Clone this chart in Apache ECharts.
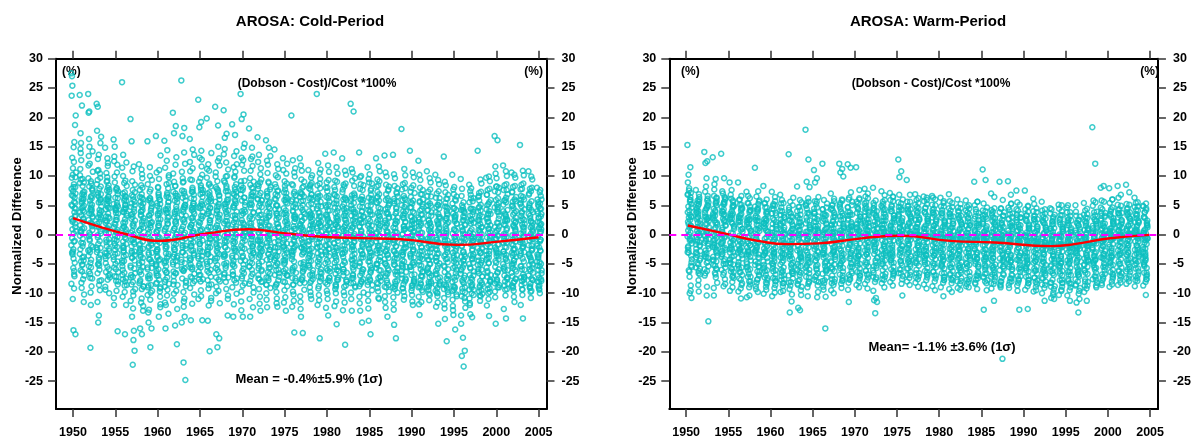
<!DOCTYPE html>
<html>
<head>
<meta charset="utf-8">
<script src="https://cdn.jsdelivr.net/npm/echarts@6/dist/echarts.min.js"></script>
<style>
html,body{margin:0;padding:0;background:#fff;}
#chart{width:1194px;height:439px;}
</style>
</head>
<body>
<div id="chart"></div>
<script>
// ---------- tick labels ----------
const xTicks = [1950,1955,1960,1965,1970,1975,1980,1985,1990,1995,2000,2005];
const yTicks = [-25,-20,-15,-10,-5,0,5,10,15,20,25,30];

// ---------- Cold period: values per year (spread + outliers, then dense core) ----------
const coldYears = [1950,1951,1952,1953,1954,1955,1956,1957,1958,1959,1960,1961,1962,1963,1964,1965,1966,1967,1968,1969,1970,1971,1972,1973,1974,1975,1976,1977,1978,1979,1980,1981,1982,1983,1984,1985,1986,1987,1988,1989,1990,1991,1992,1993,1994,1995,1996,1997,1998,1999,2000,2001,2002,2003,2004,2005];
const cold1950s = [
[27.5,-6.2,25.4,8.1,-16.3,23.7,4.5,-11.0,20.3,12.4,-3.1,18.7,6.6,-8.4,15.8,2.2,-17.0,14.9,9.7,-4.8,11.3,0.6,-9.2,13.1,5.4,-2.5,7.8,-7.1,10.2,3.3,-1.2,27.0],
[23.8,-5.1,9.4,-11.5,22.0,3.8,-7.6,12.7,1.1,-3.9,17.3,6.2,-9.1,8.8,-0.7,15.6,4.9,-6.3,11.2,2.6,-8.2,7.3,-2.0,13.9,-4.4,5.7,10.1,-1.5,0.4,-10.2,6.9,14.6],
[24.0,-4.3,21.0,7.7,-19.3,20.8,-8.8,12.1,2.9,-12.0,16.3,5.1,-6.7,9.6,-1.9,15.0,0.8,-9.9,13.4,4.2,-3.0,10.7,-5.6,8.2,1.7,-7.4,11.8,3.5,-2.6,14.2,6.4,-0.3],
[22.3,-7.9,21.8,5.5,-13.8,17.7,10.4,-15.0,16.7,2.1,-11.5,15.6,-4.9,8.6,-1.1,12.9,0.2,-8.6,6.8,-3.4,11.0,4.0,-6.0,9.3,-2.3,13.6,1.4,-9.5,7.1,3.0,-5.3,10.9],
[14.8,-3.6,6.0,-10.0,13.0,2.4,-7.0,9.0,-1.4,11.7,0.3,-5.9,7.5,-8.9,4.6,10.5,-2.8,5.9,-4.1,8.4,1.0,-6.8,12.2,3.1,-0.8,9.8,-9.4,6.5,-3.2,2.8,-7.7,4.3],
[16.2,-9.6,15.0,-16.5,4.1,-12.0,10.6,-3.3,7.4,-7.2,1.9,11.9,-5.0,5.2,-1.0,8.9,-8.5,3.7,12.5,-2.1,6.3,-6.4,0.5,9.9,-4.6,2.5,-10.8,7.9,-0.2,4.8,-7.9,13.3],
[26.0,-17.0,13.6,-12.0,5.8,-6.9,9.2,-2.7,3.6,-9.8,7.0,0.9,-4.5,11.4,-8.0,2.0,-1.6,6.1,-10.6,4.4,-3.7,8.3,-0.5,10.0,-7.5,1.3,-5.4,5.0,-2.2,12.3,-8.7,3.9],
[19.7,-18.0,15.9,-19.8,-22.2,4.7,-16.4,-14.0,8.5,-9.7,2.7,-5.8,10.8,-11.3,0.0,6.7,-3.5,-8.1,3.4,-1.3,9.1,-6.6,-10.4,5.3,-2.9,1.6,-7.3,11.6,-4.0,7.2,-12.6,-0.9],
[12.0,-17.0,-16.0,-13.0,5.0,-8.3,9.6,-3.8,1.2,-10.9,7.6,-5.5,3.2,-1.8,10.3,-7.8,-12.2,4.0,-0.4,8.0,-6.1,2.3,-9.3,6.4,-2.4,-11.6,0.7,-4.7,5.6,-8.8,11.1,-3.0],
[15.9,-19.2,-15.0,-16.0,6.2,-9.0,2.0,-12.8,9.3,-4.2,-7.5,4.5,-0.6,-10.3,7.7,-2.0,-5.7,11.5,0.9,-8.6,3.3,-3.1,-11.1,5.9,-1.5,-6.9,8.6,-9.9,1.8,-4.9,10.0,-13.3]
];
const cold1960s = [
[16.8,-14.0,5.4,-9.2,1.5,-5.2,11.0,-2.5,-11.9,7.1,-7.0,3.6,-0.3,-8.4,9.5,-3.9,-10.6,2.6,-6.2,6.0,-1.1,13.5,-4.4,0.4,-9.7,8.1,-2.9,-7.7,4.9,-12.4,-5.9,10.6],
[16.0,14.4,-16.0,-13.5,6.5,-8.1,2.9,-4.6,10.1,-10.4,-1.2,7.9,-6.5,0.6,-9.4,4.3,-3.3,12.6,-11.6,1.8,-5.4,8.8,-7.3,-0.9,5.5,-2.1,-8.9,3.8,-12.0,9.8,-4.0,11.4],
[20.8,18.5,17.3,-18.7,-15.5,7.3,-9.6,3.0,-3.6,11.9,-7.1,0.1,5.8,-11.2,-1.7,9.0,-5.3,2.1,-8.5,13.2,-0.8,6.6,-4.5,-10.1,4.0,-2.6,10.4,-6.6,1.0,-12.7,8.3,-3.8],
[26.3,18.2,16.8,-24.8,-21.8,-15.0,-14.0,8.9,-8.8,4.7,-3.0,12.1,-6.1,0.7,-10.9,6.3,-1.9,-12.3,10.7,-4.9,2.5,-7.9,14.0,-0.5,5.1,-9.8,3.4,-5.8,9.6,-2.4,-11.4,7.5],
[16.3,14.5,-14.6,5.3,-7.4,10.8,-2.7,1.6,-10.2,8.0,-5.1,3.9,-0.2,12.4,-8.3,6.2,-3.5,-11.8,9.4,-1.3,2.8,-6.7,11.3,-4.2,0.3,7.3,-9.1,4.4,-2.0,13.6,-5.6,1.2],
[23.0,19.2,18.3,-14.6,6.9,-6.3,11.6,-1.6,3.1,-9.5,9.0,-3.7,0.8,-11.0,14.3,-5.0,5.0,-8.0,2.2,12.8,-2.8,7.6,-10.5,-0.1,10.2,-6.9,4.6,-4.3,13.1,-1.0,8.4,-7.6],
[19.8,-19.9,-14.7,8.2,-8.6,3.5,-2.2,12.0,-10.8,6.0,-5.5,1.3,-12.1,9.7,-0.7,4.8,-7.2,10.9,-3.4,2.4,-9.2,13.9,-1.4,7.0,-6.0,0.2,11.2,-4.6,5.7,-11.3,8.7,-2.9],
[21.8,18.6,-17.0,-17.7,-19.2,9.9,-7.7,4.1,-1.8,12.5,-10.0,6.6,-4.0,0.5,15.0,-8.9,2.7,-3.1,10.6,-6.4,7.8,-11.7,1.1,-0.6,13.0,-5.2,5.6,-9.6,3.6,11.8,-2.3,8.1],
[21.2,17.2,16.5,-13.8,7.4,-6.8,2.3,-3.6,11.1,-9.3,5.2,0.0,-5.7,13.7,-1.2,8.9,-11.0,3.9,-7.3,10.0,-2.1,6.0,-4.8,14.6,1.7,-8.1,9.2,-0.4,4.4,-10.4,12.3,-3.3],
[18.8,17.0,-14.0,8.6,-7.8,3.2,-2.4,11.5,-10.1,5.9,-5.0,1.4,13.4,-9.0,-0.5,7.0,-3.8,9.9,-6.3,2.6,-11.9,12.0,-1.3,4.7,-8.2,6.8,0.3,10.7,-4.5,14.2,-2.7,-6.9]
];
const cold1970s = [
[24.0,20.5,19.7,15.5,-14.0,9.1,-6.6,4.0,-1.0,12.7,-9.7,6.3,-3.9,2.0,14.8,-7.5,0.5,8.0,-11.4,10.9,-2.3,5.5,-5.1,13.1,1.0,-8.7,7.6,-0.2,11.9,-4.4,3.6,-12.9],
[18.1,14.8,-14.0,7.9,-7.1,2.8,-2.0,10.9,-9.9,5.1,-4.7,0.9,12.9,-8.4,-0.3,8.5,-3.2,6.5,-11.0,11.7,-1.5,3.7,-6.0,9.6,-12.4,1.9,-5.5,13.3,0.0,-9.0,6.9,-2.8],
[16.6,-13.0,8.3,-6.2,3.3,-1.1,11.3,-9.3,5.8,-3.6,0.4,9.4,-7.6,-0.9,7.1,-4.9,2.1,-10.6,12.4,-2.4,4.9,-8.0,10.3,-5.8,1.2,-11.8,6.0,-3.0,13.6,-1.7,8.9,-6.9],
[16.1,14.8,-12.4,7.7,-7.4,2.5,-2.6,10.5,-9.1,4.7,-4.3,0.1,11.9,-8.5,-1.0,6.6,-5.6,9.0,-11.1,3.2,-0.6,8.1,-3.3,12.6,-6.7,1.5,-10.0,5.4,-2.0,13.4,-7.8,3.9],
[14.5,-12.3,6.9,-6.0,1.9,-2.9,9.8,-8.6,4.3,-4.8,0.6,11.2,-9.8,-1.3,7.4,-5.3,2.9,-10.9,8.6,-0.2,5.0,-7.2,12.0,-3.5,1.2,-11.7,6.1,-2.2,10.1,-6.6,3.6,-8.9],
[13.0,-13.0,7.2,-6.9,2.2,-2.1,10.4,-9.5,5.3,-3.9,0.3,8.7,-8.1,-1.4,6.4,-5.0,12.1,-10.7,3.5,-0.5,9.1,-7.0,4.1,-11.6,1.6,-4.4,11.0,-2.6,5.9,-8.8,0.9,-6.2],
[20.3,-16.7,6.0,-7.5,1.4,-2.8,9.9,-9.7,4.6,-4.6,-0.1,11.3,-8.6,-1.6,7.3,-5.7,2.7,-11.3,8.6,-0.4,3.9,-6.5,10.6,-3.4,1.0,-10.2,5.7,-2.1,12.7,-7.9,3.0,-12.3],
[13.0,-16.8,-14.0,6.5,-7.8,1.8,-3.1,9.4,-9.4,4.2,-4.9,0.4,10.9,-8.3,-1.7,7.0,-5.9,2.4,-11.5,8.2,-0.8,3.5,-6.4,11.8,-2.5,1.3,-10.5,5.8,-2.2,9.0,-7.3,-12.7],
[11.0,-11.0,6.2,-7.0,1.6,-2.7,8.8,-9.0,4.4,-4.5,0.2,10.1,-8.2,-1.2,6.8,-5.6,2.6,-10.4,7.9,-0.3,3.4,-6.1,9.7,-3.6,1.1,-9.8,5.1,-2.4,8.3,-7.6,3.0,-5.2],
[24.0,-17.7,7.0,-7.2,1.9,-2.3,9.5,-9.2,4.8,-4.2,0.6,11.1,-8.8,-1.5,6.6,-5.4,2.2,-11.2,8.4,-0.6,3.7,-6.6,10.5,-3.2,1.4,-10.3,5.5,-2.0,12.2,-7.5,3.1,-12.0]
];
const cold1980s = [
[13.8,-13.8,6.4,-7.4,1.5,-3.0,9.3,-9.6,4.1,-4.7,0.0,10.7,-8.5,-1.8,6.2,-5.8,2.1,-11.0,8.0,-0.7,3.3,-6.3,11.8,-3.4,1.0,-10.1,5.0,-2.5,8.9,-7.9,2.7,-12.5],
[14.0,-15.3,6.7,-7.3,1.7,-2.9,9.0,-9.3,4.5,-4.4,0.3,10.4,-8.7,-1.4,6.5,-5.5,2.4,-11.4,8.1,-0.5,3.6,-6.2,11.5,-3.7,1.2,-10.0,5.3,-2.3,9.2,-7.7,2.9,-12.2],
[13.0,-18.8,6.0,-7.7,1.3,-3.2,8.7,-9.8,4.0,-4.8,-0.2,10.2,-8.9,-1.9,6.1,-5.9,2.0,-11.6,7.7,-0.9,3.2,-6.5,10.9,-3.8,0.8,-10.4,4.8,-2.6,8.5,-8.0,2.6,-12.9],
[22.3,21.0,-13.0,6.3,-7.0,1.6,-2.6,9.2,-9.0,4.3,-4.3,0.1,10.6,-8.3,-1.3,6.7,-5.3,2.5,-11.0,8.3,-0.4,3.8,-6.0,11.2,-3.3,1.3,-9.9,5.4,-2.1,9.6,-7.4,3.2],
[14.0,-15.0,-13.0,5.9,-7.9,1.4,-3.3,8.6,-9.9,3.9,-4.9,-0.3,10.0,-8.8,-1.8,6.0,-6.0,2.0,-11.7,7.6,-0.8,3.1,-6.6,9.8,-3.9,0.7,-10.6,4.7,-2.7,8.4,-8.1,2.5],
[11.5,-17.0,-14.7,6.1,-7.6,1.5,-3.1,8.9,-9.5,4.1,-4.6,0.0,10.3,-8.6,-1.6,6.3,-5.7,2.3,-11.3,7.8,-0.6,3.4,-6.3,9.5,-3.6,1.0,-10.2,5.0,-2.4,8.7,-7.8,-12.6],
[13.0,-11.0,6.4,-7.1,1.8,-2.7,9.1,-9.1,4.4,-4.3,0.4,10.8,-8.4,-1.2,6.9,-5.2,2.6,-10.8,8.2,-0.2,3.7,-6.1,11.6,-3.2,1.5,-9.7,5.5,-2.0,9.4,-7.3,3.3,-5.0],
[13.5,-14.0,-12.5,5.8,-7.8,1.3,-3.4,8.5,-9.7,3.8,-5.0,-0.4,9.9,-8.9,-1.9,5.9,-6.1,1.9,-11.5,7.5,-0.9,3.0,-6.7,10.6,-4.0,0.6,-10.5,4.6,-2.8,8.2,-8.2,2.4],
[13.6,-17.7,-15.4,5.6,-8.0,1.2,-3.5,8.3,-9.9,3.6,-5.1,-0.5,9.6,-9.0,-2.0,5.7,-6.3,1.8,-11.8,7.2,-1.0,2.9,-6.8,10.3,-4.1,0.5,-10.7,4.4,-2.9,7.9,-8.4,-12.8],
[18.0,-10.5,5.9,-7.5,1.4,-3.0,8.8,-9.2,4.0,-4.6,0.0,10.1,-8.5,-1.5,6.2,-5.6,2.2,-11.1,7.7,-0.6,3.3,-6.4,11.2,-3.5,1.0,-9.8,5.0,-2.3,8.6,-7.7,2.8,-5.3]
];
const cold1990s = [
[14.3,-12.0,5.5,-7.9,1.1,-3.3,8.4,-9.6,3.7,-4.9,-0.3,9.8,-8.7,-1.8,5.8,-6.0,1.9,-11.4,7.3,-0.9,3.0,-6.8,10.6,-3.9,0.6,-10.3,4.6,-2.6,8.0,-8.2,2.4,-5.5],
[12.6,-11.5,-13.7,5.2,-8.3,0.9,-3.6,8.0,-9.8,3.4,-5.2,-0.6,9.3,-9.0,-2.1,5.5,-6.4,1.6,-11.9,6.9,-1.1,2.7,-7.1,10.2,-4.2,0.3,-10.6,4.3,-2.9,7.6,-8.5,2.1],
[10.8,-10.3,5.0,-8.0,0.8,-3.7,7.7,-9.4,3.2,-5.0,-0.7,8.9,-8.8,-2.2,5.3,-6.5,1.4,-11.2,6.6,-1.2,2.5,-7.0,9.6,-4.3,0.2,-10.1,4.1,-3.0,7.3,-8.3,1.9,-5.8],
[10.2,-15.2,4.7,-8.4,0.6,-3.9,7.4,-9.9,3.0,-5.3,-0.9,8.6,-9.1,-2.4,5.0,-6.7,1.2,-11.6,6.3,-1.4,2.3,-7.3,9.3,-4.5,0.0,-10.5,3.8,-3.2,7.0,-8.6,1.7,-12.3],
[13.3,-18.2,-14.4,4.5,-8.6,0.4,-4.1,7.2,-10.2,2.8,-5.5,-1.0,8.4,-9.3,-2.6,4.8,-6.9,1.0,-11.9,6.1,-1.6,2.1,-7.5,9.0,-4.7,-0.2,-10.8,3.6,-3.4,6.8,-8.8,-12.6],
[10.2,-16.2,-13.7,4.2,-8.9,0.2,-4.3,6.9,-10.5,2.6,-5.7,-1.2,8.1,-9.6,-2.8,4.5,-7.1,0.8,-12.2,5.8,-1.8,1.9,-7.8,7.7,-4.9,-0.4,-11.1,3.3,-3.6,6.5,-9.1,-12.9],
[9.5,-22.5,-20.7,-19.8,-17.6,-15.2,4.0,-9.2,0.0,-4.5,6.6,-10.8,2.4,-5.9,-1.4,7.8,-9.9,-3.0,4.2,-7.4,0.6,-12.5,5.5,-2.0,1.7,-8.1,-13.8,-5.1,-0.6,-11.4,3.1,-3.8],
[8.5,-14.1,-13.6,4.3,-8.7,0.3,-4.2,6.8,-10.3,2.5,-5.6,-1.1,7.9,-9.4,-2.7,4.4,-7.0,0.9,-12.0,5.7,-1.7,2.0,-7.7,7.4,-4.8,-0.3,-10.9,3.4,-3.5,6.2,-9.0,-11.7],
[14.3,-10.5,4.6,-8.2,0.7,-3.8,7.3,-9.7,3.1,-5.1,-0.8,8.7,-9.0,-2.3,5.1,-6.6,1.3,-11.3,6.4,-1.3,2.4,-7.2,9.4,-4.4,0.1,-10.4,3.9,-3.1,7.1,-8.5,1.8,-5.9],
[9.7,-13.9,5.0,-7.9,1.0,-3.5,7.8,-9.3,3.5,-4.8,-0.5,9.1,-8.6,-2.0,5.5,-6.2,1.6,-11.0,6.8,-1.0,2.8,-6.9,9.9,-4.0,0.4,-10.0,4.3,-2.8,7.6,-8.1,2.2,-12.1]
];
const cold2000s = [
[16.8,16.1,-15.2,5.4,-7.6,1.3,-3.2,8.2,-9.0,3.9,-4.5,-0.2,9.6,-8.3,-1.7,5.9,-5.9,2.0,-10.7,7.2,-0.7,3.2,-6.5,10.4,-3.7,0.7,-9.7,4.7,-2.5,8.0,-7.8,11.6],
[11.8,-14.3,5.8,-7.3,1.6,-2.9,8.6,-8.7,4.2,-4.2,0.1,10.0,-8.0,-1.4,6.3,-5.5,2.4,-10.4,7.6,-0.4,3.6,-6.1,10.8,-3.3,1.1,-9.4,5.1,-2.2,8.4,-7.4,2.6,-12.7],
[10.6,-11.5,5.6,-7.5,1.4,-3.1,8.3,-8.9,4.0,-4.4,-0.1,9.7,-8.2,-1.6,6.0,-5.7,2.2,-10.6,7.3,-0.6,3.4,-6.3,10.2,-3.5,0.9,-9.6,4.9,-2.4,8.1,-7.6,2.4,-5.0],
[15.3,-14.3,5.9,-7.2,1.7,-2.8,8.7,-8.6,4.3,-4.1,0.2,10.1,-7.9,-1.3,6.4,-5.4,2.5,-10.3,7.7,-0.3,3.7,-6.0,10.9,-3.2,1.2,-9.3,5.2,-2.1,8.5,-7.3,2.7,-12.0],
[10.8,-9.6,5.3,-7.7,1.2,-3.3,8.0,-9.1,3.8,-4.6,-0.3,9.4,-8.4,-1.8,5.7,-5.9,2.0,-10.8,7.0,-0.8,3.2,-6.5,9.9,-3.7,0.7,-9.8,4.6,-2.6,7.8,-7.8,2.2,-5.2],
[8.0,-10.0,5.1,-7.6,1.0,-3.4,7.6,-8.9,3.5,-4.7,-0.4,6.6,-8.1,-1.9,4.4,-6.0,1.8,-9.4,6.0,-0.9,2.9,-6.6,7.2,-3.8,0.5,-9.2,4.0,-2.7,5.5,-7.9,2.0,-5.3]
];
const coldCore1950s = [
[3.1,7.4,-1.8,5.6,0.9,9.8,-4.1,2.7,6.3,-2.9,4.4,8.6,-0.6,1.9,-5.7,5.1,3.8,-3.4,7.0,0.2,6.7,-1.1,2.4,10.6,-6.8,4.9,1.3,8.1],
[2.2,6.1,-3.3,4.7,0.5,8.9,-5.2,1.6,7.2,-1.4,3.9,9.5,-6.1,2.8,5.4,-0.2,4.1,-4.6,6.8,1.0,-2.5,5.9,3.3,-7.0,8.3,0.7,-3.8,4.5],
[1.9,5.8,-2.7,4.0,0.3,7.9,-4.8,2.5,6.6,-1.0,3.1,9.1,-6.3,1.4,5.2,-3.6,4.6,-0.8,7.5,2.0,-5.4,6.2,0.0,-2.1,8.7,3.6,-7.5,4.3],
[2.6,6.5,-2.2,3.4,-0.5,8.2,-4.3,1.8,5.9,-1.6,4.8,7.8,-6.6,0.6,5.5,-3.0,3.7,-5.1,6.9,1.2,-2.6,9.7,2.9,-7.8,4.2,-0.1,6.0,-3.9],
[1.5,5.3,-3.1,3.6,-0.9,7.3,-5.5,2.0,6.4,-2.0,4.5,8.0,-6.4,0.2,4.9,-3.7,3.0,-1.3,7.7,1.1,-4.9,5.7,2.3,-7.3,6.1,0.8,-2.4,9.2],
[0.8,4.6,-3.8,3.0,-1.5,6.9,-5.9,1.3,5.4,-2.6,3.6,7.6,-7.1,-0.4,4.2,-4.3,2.5,-1.9,6.2,0.4,-5.6,5.0,1.7,-8.0,7.9,-0.8,-3.2,4.4],
[0.4,4.3,-4.4,2.6,-1.9,6.4,-6.5,1.1,5.1,-3.0,3.2,7.2,-7.6,-0.7,3.8,-4.8,2.1,-2.3,5.8,0.0,-6.0,4.6,1.4,-8.6,6.6,-1.2,-3.5,8.8],
[-0.6,3.5,-5.3,1.9,-2.8,5.6,-7.2,0.3,4.4,-3.9,2.4,6.5,-8.5,-1.6,3.0,-5.6,1.4,-3.1,5.0,-0.9,-6.9,3.9,0.6,-9.3,6.0,-2.0,-4.4,7.6],
[-0.3,3.9,-4.9,2.2,-2.4,6.0,-6.8,0.7,4.7,-3.5,2.8,6.9,-8.0,-1.2,3.4,-5.2,1.7,-2.7,5.3,-0.5,-6.4,4.2,1.0,-8.9,6.3,-1.6,-4.0,8.4],
[-0.9,3.2,-5.6,1.6,-3.1,5.3,-7.5,0.1,4.1,-4.2,2.1,6.2,-8.7,-1.8,2.7,-5.9,1.2,-3.4,4.8,-1.1,-7.1,3.6,0.4,-9.6,5.8,-2.2,-4.6,7.3]
];
const coldCore1960s = [
[-0.5,3.6,-5.0,2.0,-2.6,5.9,-7.0,0.5,4.5,-3.7,2.6,6.8,-8.2,-1.4,3.3,-5.4,1.5,-2.9,5.2,-0.7,-6.6,4.0,0.8,-9.0,6.4,-1.8,-4.2,8.0],
[0.2,4.1,-4.5,2.4,-2.0,6.3,-6.4,0.9,4.9,-3.2,3.0,7.1,-7.7,-0.9,3.7,-4.9,1.9,-2.4,5.6,-0.2,-6.1,4.4,1.2,-8.4,6.8,-1.3,-3.7,8.6],
[0.0,3.9,-4.7,2.3,-2.2,6.1,-6.6,0.7,4.8,-3.4,2.9,7.0,-7.9,-1.0,3.5,-5.1,1.8,-2.6,5.5,-0.4,-6.3,4.3,1.1,-8.6,6.6,-1.5,-3.9,8.3],
[0.3,4.3,-4.3,2.6,-1.8,6.5,-6.2,1.0,5.0,-3.0,3.2,7.4,-7.5,-0.7,3.9,-4.7,2.1,-2.2,5.8,0.0,-5.9,4.6,1.4,-8.2,7.0,-1.1,-3.5,9.0],
[0.6,4.6,-4.0,2.9,-1.5,6.8,-5.9,1.3,5.3,-2.7,3.5,7.7,-7.2,-0.4,4.2,-4.4,2.4,-1.9,6.1,0.3,-5.6,4.9,1.7,-7.9,7.3,-0.8,-3.2,9.3],
[0.9,4.9,-3.7,3.2,-1.2,7.1,-5.6,1.6,5.6,-2.4,3.8,8.0,-6.9,-0.1,4.5,-4.1,2.7,-1.6,6.4,0.6,-5.3,5.2,2.0,-7.6,7.6,-0.5,-2.9,9.6],
[0.1,4.0,-4.6,2.5,-2.1,6.2,-6.5,0.8,4.6,-3.3,3.1,7.2,-7.8,-0.8,3.6,-5.0,2.0,-2.5,5.7,-0.3,-6.2,4.5,1.3,-8.5,6.7,-1.4,-3.8,8.5],
[0.7,4.7,-4.1,3.0,-1.6,6.7,-6.0,1.2,5.2,-2.8,3.4,7.6,-7.3,-0.5,4.1,-4.5,2.3,-2.0,6.0,0.2,-5.7,4.8,1.6,-8.0,7.2,-0.9,-3.3,9.1],
[1.2,5.2,-3.5,3.5,-1.0,7.4,-5.3,1.9,5.9,-2.2,4.1,8.3,-6.6,0.2,4.8,-3.8,3.0,-1.3,6.7,0.9,-5.0,5.5,2.3,-7.3,7.9,-0.2,-2.6,9.9],
[1.0,5.0,-3.6,3.3,-1.1,7.2,-5.4,1.7,5.7,-2.3,3.9,8.1,-6.8,0.0,4.6,-4.0,2.8,-1.5,6.5,0.7,-5.2,5.3,2.1,-7.5,7.7,-0.4,-2.8,9.7]
];
const coldCore1970s = [
[4.2,-1.3,6.9,-5.8,2.5,0.4,-3.6,8.4,1.7,-7.1,5.0,-0.6,3.3,-2.4,7.6,-4.5,0.9,5.8,-8.3,2.0,-1.9,6.3,-6.2,3.9,1.1,-3.0,9.2,-0.1],
[-2.0,5.4,0.8,-4.9,3.1,7.2,-0.8,1.9,-6.7,4.6,-3.1,8.0,0.1,-1.6,6.0,-5.4,2.7,-7.9,3.8,-0.3,5.1,-2.7,1.4,9.0,-4.0,0.6,6.6,-3.6],
[1.3,-3.4,6.1,-0.9,4.0,-6.0,2.2,7.8,-1.9,0.2,-4.6,5.3,-7.5,3.4,-2.3,8.6,0.7,-5.3,4.7,-0.4,2.9,-8.1,6.7,-2.8,1.6,-3.9,5.9,-1.2],
[5.6,-0.2,2.8,-5.1,7.0,-2.6,0.5,-7.3,3.7,1.0,-3.8,8.8,-1.4,4.4,-6.4,2.1,-0.7,6.4,-4.2,3.0,-8.6,1.5,5.2,-2.1,-5.7,7.4,0.0,-3.3],
[-1.1,3.6,-4.4,6.6,0.3,-2.9,5.0,-6.9,1.8,8.1,-0.5,-3.7,4.3,-7.8,2.6,0.9,-5.0,6.0,-1.7,3.2,-2.2,7.5,-6.1,0.4,4.9,-4.0,1.3,-8.4],
[2.4,-4.8,0.6,5.9,-2.0,-7.0,3.7,-0.1,7.1,-3.5,1.2,-5.9,4.5,-1.5,8.3,-8.0,2.9,-2.5,6.2,0.0,-4.4,3.4,-6.6,1.9,5.5,-0.9,-3.1,7.7],
[0.1,4.8,-3.1,2.2,-6.3,6.7,-0.9,-4.2,3.3,8.4,-1.8,1.0,-7.4,5.2,-2.8,0.6,-5.5,4.1,-0.3,7.0,-3.7,2.7,-8.5,5.8,-1.2,-6.0,3.0,-2.3],
[3.8,-2.3,1.5,-5.6,5.7,-0.6,-3.4,7.2,0.8,-7.6,2.8,-1.3,4.6,-4.7,0.2,6.4,-6.2,3.1,-2.0,8.0,-0.2,-5.1,2.3,-8.2,5.0,1.1,-3.0,6.9],
[-0.8,2.9,-4.0,5.3,0.9,-6.6,3.6,-1.7,6.9,-3.3,1.4,-7.9,4.0,-0.4,7.7,-5.3,2.2,-2.6,5.9,0.3,-4.5,3.3,-6.9,1.7,6.3,-1.0,-3.6,8.5],
[1.6,-3.9,4.4,-0.7,6.5,-5.9,2.0,-2.1,7.9,-7.2,0.5,3.8,-4.6,5.6,-1.4,1.1,-8.0,4.9,-2.9,0.0,6.1,-6.4,2.6,-3.5,8.7,-0.5,3.1,-5.0]
];
const coldCore1980s = [
[-1.6,3.0,-4.9,5.1,0.2,-7.3,2.4,-2.8,6.6,-0.9,-5.8,4.1,1.2,-3.7,7.4,-8.2,0.8,-1.9,5.6,-6.1,3.4,-0.4,-4.3,2.0,-7.8,4.7,-2.4,8.0],
[2.7,-2.2,0.4,-6.0,4.6,-1.1,-3.9,6.9,-7.7,1.7,-0.5,5.3,-4.8,3.1,-8.5,0.9,-2.7,7.6,-5.5,2.2,-1.5,4.0,-6.7,0.0,5.8,-3.3,1.4,-8.9],
[-0.3,4.3,-3.3,1.6,-7.0,5.9,-1.8,-5.2,3.2,0.6,-8.0,6.3,-2.5,2.5,-4.5,7.2,-0.8,-6.4,4.5,-3.0,1.0,-8.7,5.2,-1.3,3.7,-5.9,0.3,8.2],
[1.9,-4.4,5.7,-0.6,-2.6,3.5,-6.8,0.7,7.0,-3.6,2.3,-8.3,4.4,-1.2,-5.0,6.1,-0.2,-7.4,2.9,-2.0,5.0,-4.1,1.1,-8.8,3.9,-1.7,6.7,-5.6],
[-2.1,2.6,-5.4,4.0,-0.4,-7.6,6.0,1.3,-3.4,3.3,-0.9,-6.3,7.8,-1.6,0.5,-4.7,5.5,-8.4,2.1,-2.8,4.8,-5.9,0.1,-1.0,6.5,-7.0,3.0,-3.9],
[0.7,-3.6,4.9,-6.5,1.8,-1.4,3.9,-8.1,6.8,-2.4,0.0,-5.3,2.7,5.6,-4.0,-0.7,7.5,-7.2,1.5,-2.9,4.2,-6.0,0.4,-8.6,3.4,-1.8,5.9,-4.6],
[3.1,-1.9,-5.7,0.8,5.4,-3.1,-7.4,2.1,-0.3,6.4,-4.5,1.2,-8.2,3.8,-2.3,0.2,-6.1,7.3,-1.1,4.6,-5.0,-2.6,2.5,-7.9,5.8,-0.6,-3.8,8.4],
[-1.2,3.6,-4.2,0.5,-7.1,5.0,-2.5,2.0,-5.8,6.9,-0.8,-3.5,4.3,-8.6,1.6,-1.7,6.2,-6.6,2.8,-0.1,-4.9,3.5,-9.0,5.2,0.3,-2.9,7.7,-5.3],
[0.4,-5.2,3.0,-2.0,6.1,-7.9,1.1,-0.9,4.6,-4.1,-6.9,2.4,-1.5,7.0,-8.8,0.0,-3.2,5.3,-5.7,1.9,-2.7,3.9,-9.3,6.5,-0.5,-4.6,2.2,-6.3],
[2.1,-3.0,-6.2,4.7,0.1,-1.6,6.6,-5.0,-8.0,2.9,-2.2,1.4,-4.4,7.9,-0.7,-6.8,3.6,-3.5,5.1,0.8,-7.5,-1.3,4.0,-5.5,1.0,-9.1,6.0,-2.5]
];
const coldCore1990s = [
[-2.6,1.7,-5.5,3.9,-0.7,-8.0,5.3,-3.6,0.4,-6.9,2.6,-1.9,6.4,-4.7,-9.1,1.0,-2.9,4.6,-7.6,-0.1,3.1,-5.2,-1.3,7.1,-8.6,0.9,-3.9,2.2],
[0.3,-4.0,2.9,-7.0,-1.5,4.8,-5.9,1.4,-2.8,-8.9,6.0,-0.6,-4.6,3.4,-7.8,0.0,-2.2,5.7,-6.3,1.9,-3.4,-9.5,4.1,-1.0,-5.3,2.6,-7.2,6.9],
[-1.8,2.4,-6.1,-0.2,4.2,-3.8,-8.4,1.6,-5.0,3.3,-2.4,-7.3,5.6,0.5,-4.3,-9.0,2.0,-1.2,6.5,-6.6,-3.1,1.1,-8.1,3.8,-0.8,-5.6,4.9,-2.0],
[1.0,-3.3,-6.8,3.5,-1.9,-4.9,5.1,-8.6,0.3,-2.6,2.7,-7.5,-0.5,4.4,-5.8,-9.6,1.8,-3.9,6.2,-1.4,-6.2,3.0,-0.9,-8.0,2.1,-4.5,5.5,-10.0],
[-2.3,1.5,-5.3,4.0,-0.9,-7.7,2.8,-3.7,-9.2,5.4,-1.6,0.6,-6.4,3.4,-4.2,-8.5,1.9,-2.0,-5.9,6.1,-0.4,-3.0,2.4,-7.1,4.7,-1.1,-9.8,0.2],
[0.6,-4.6,-8.1,2.9,-1.7,-6.0,4.5,-3.1,-0.3,-9.4,1.8,-5.5,3.6,-2.4,-7.3,5.3,-0.8,-4.0,-10.2,2.3,-1.3,-6.6,0.9,-3.5,6.0,-8.8,-2.0,3.1],
[-3.4,0.8,-6.7,2.5,-1.9,-9.0,4.2,-4.8,-0.6,-7.8,1.6,-2.9,-10.5,3.7,-5.6,-1.2,-8.3,5.0,-3.8,0.2,-6.1,2.9,-9.7,-0.9,-4.3,1.3,-7.0,4.6],
[-1.0,2.6,-5.0,-8.5,0.6,-3.3,4.4,-6.9,-1.9,1.9,-9.4,-4.1,3.2,-0.4,-7.4,5.5,-2.5,-5.8,0.1,-10.0,2.3,-3.7,6.2,-6.3,-1.4,-8.1,3.9,-0.7],
[1.2,-2.8,-6.3,4.1,-0.5,-4.4,-8.7,2.5,-1.7,5.8,-7.1,-3.2,0.8,-9.5,3.3,-5.2,-0.9,6.6,-2.3,-7.9,1.6,-4.8,4.7,-10.1,-1.2,2.9,-6.0,0.4],
[-0.6,3.4,-4.3,1.0,-7.2,-2.1,5.2,-5.6,-9.1,2.2,-1.3,-3.9,6.8,-8.0,0.3,-2.8,4.0,-6.5,-0.2,-4.9,2.7,-9.8,-1.6,5.9,-3.3,1.5,-7.7,3.6]
];
const coldCore2000s = [
[0.9,-3.1,4.6,-6.4,-0.8,2.7,-8.1,-2.2,6.2,-4.8,1.4,-0.2,-7.0,3.8,-3.6,7.4,-9.0,0.4,-1.7,5.1,-5.5,2.0,-2.7,-8.6,4.3,-0.6,-4.2,8.2],
[-1.4,2.3,-5.0,5.5,-0.3,-7.6,3.4,-2.9,0.8,-6.1,6.9,-4.0,1.7,-9.3,-1.1,4.0,-3.5,-7.0,2.6,0.1,-5.8,7.6,-2.1,-8.4,3.1,-0.7,-4.5,5.9],
[2.0,-2.5,-6.5,3.7,-0.9,5.7,-4.4,-8.7,1.2,-1.8,6.4,-3.3,-7.1,0.6,4.5,-5.3,-0.1,-9.1,2.9,-2.6,7.2,-6.0,1.6,-3.8,-8.0,4.9,-1.2,-4.9],
[-0.4,3.9,-3.6,1.3,-7.3,6.0,-2.3,-5.4,0.2,4.8,-8.3,-1.5,2.4,-4.6,7.8,-0.9,-6.8,3.2,-3.0,-9.4,5.4,0.7,-5.9,1.8,-2.0,6.6,-7.7,-1.0],
[1.5,-3.9,-7.0,4.2,-1.0,-5.1,2.3,6.8,-2.7,-8.8,0.5,-4.3,5.0,-0.5,-6.2,3.5,-1.9,-9.0,1.0,7.4,-3.4,-5.7,2.8,-0.8,-7.5,4.6,-2.4,0.1],
[-0.9,2.8,-4.6,0.4,-6.9,4.4,-2.2,-8.0,1.6,-3.5,6.0,-5.4,-0.3,3.1,-7.4,-1.6,5.3,-4.0,0.9,-8.7,2.2,-2.8,4.8,-6.1,-1.2,3.6,-5.0,1.2]
];
const coldVals = [...cold1950s, ...cold1960s, ...cold1970s, ...cold1980s, ...cold1990s, ...cold2000s];
const coldCore = [...coldCore1950s, ...coldCore1960s, ...coldCore1970s, ...coldCore1980s, ...coldCore1990s, ...coldCore2000s];

// ---------- Warm period: values per year ----------
const warmYears = [1950,1951,1952,1953,1954,1955,1956,1957,1958,1959,1960,1961,1962,1963,1964,1965,1966,1967,1968,1969,1970,1971,1972,1973,1974,1975,1976,1977,1978,1979,1980,1981,1982,1983,1984,1985,1986,1987,1988,1989,1990,1991,1992,1993,1994,1995,1996,1997,1998,1999,2000,2001,2002,2003,2004];
const warm1950s = [
[15.3,11.5,10.2,-10.8,-10.0,8.9,-8.7,7.5,-4.2,5.9,-2.0,3.1,-6.3,6.8,0.4,-3.1,4.6,-1.0,2.2,-5.3,7.9,-0.6,1.5,-2.6,5.2,-7.2,3.8,-9.6],
[7.6,-9.7,5.3,-6.8,3.0,-2.4,6.4,-4.9,0.9,-7.8,4.2,-1.3,2.0,-5.6,6.9,-3.5,1.4,-8.6,3.7,-0.2,5.8,-4.1,-6.2,2.6,-1.8,4.9,-3.0,0.3],
[14.1,12.5,12.2,-14.8,9.6,-7.0,6.1,-3.8,2.3,-8.9,7.3,-1.5,4.4,-5.9,0.6,-2.7,5.5,-10.4,3.1,-4.6,8.2,-0.8,1.8,-6.6,4.9,-3.2,-0.1,2.7],
[13.2,9.5,-10.4,6.3,-6.5,3.6,-2.9,7.7,-8.2,1.2,-4.4,5.0,-0.9,2.8,-7.3,6.6,-1.9,4.1,-5.2,0.3,8.6,-3.6,2.0,-9.1,5.7,-2.2,3.3,-5.8],
[13.8,9.6,7.4,-8.4,5.2,-6.0,2.5,-2.3,6.2,-4.5,0.8,-7.6,3.9,-1.4,5.6,-3.3,1.6,-8.8,4.7,-0.5,7.0,-5.0,2.3,-2.8,6.0,-6.9,0.0,3.4],
[8.9,-9.0,6.8,-7.4,4.0,-3.1,5.8,-5.7,1.3,-8.1,3.2,-1.7,7.6,-4.3,0.2,-6.3,4.8,-2.5,2.6,-7.0,6.1,-0.7,1.9,-4.9,5.0,-3.8,-9.6,3.6],
[8.9,-10.9,5.9,-8.3,3.3,-4.0,6.6,-6.4,1.0,-9.2,2.8,-2.2,5.1,-5.1,-0.4,-7.5,4.4,-3.0,2.1,-8.6,6.0,-1.2,0.8,-5.8,4.6,-2.6,-9.7,3.5],
[7.3,-10.4,5.4,-8.0,3.0,-3.6,6.2,-6.1,0.6,-9.0,2.4,-1.8,5.3,-4.7,-0.3,-7.2,4.0,-2.9,1.7,-8.5,6.6,-1.0,1.1,-5.5,4.2,-3.4,-10.7,2.6],
[11.4,-9.8,-9.3,5.6,-7.7,2.9,-3.9,6.5,-6.4,0.8,-8.8,2.3,-2.1,4.8,-4.9,-0.6,-7.0,3.9,-3.2,1.6,-8.2,5.8,-1.3,0.9,-5.4,4.3,-2.7,7.4],
[8.3,-9.4,5.3,-7.8,2.7,-3.5,6.0,-6.2,0.5,-8.9,2.0,-1.9,4.6,-4.6,-0.5,-7.3,3.5,-2.8,1.4,-8.4,5.4,-1.1,0.7,-5.6,3.9,-3.1,-10.1,2.5]
];
const warm1960s = [
[7.3,-9.9,4.9,-7.9,2.5,-3.7,5.7,-6.3,0.2,-9.1,1.8,-2.2,4.3,-4.9,-0.8,-7.4,3.3,-3.0,1.1,-8.6,5.2,-1.3,0.4,-5.8,3.7,-3.3,-10.5,6.4],
[6.8,-9.6,4.6,-7.6,2.2,-3.9,5.4,-6.5,0.0,-8.8,1.6,-2.4,4.0,-5.1,-1.0,-7.1,3.0,-3.2,0.9,-8.3,5.9,-1.5,0.3,-6.0,3.4,-3.5,-9.8,2.0],
[13.7,-11.4,-13.3,5.0,-8.1,2.4,-4.1,5.6,-6.7,0.1,-9.3,1.7,-2.5,4.2,-5.2,-1.1,-7.5,3.1,-3.3,1.0,-8.7,6.3,-1.6,0.3,-6.2,3.6,-3.7,-10.2],
[8.2,-12.9,-12.5,-10.3,4.7,-8.4,2.1,-4.3,5.5,-6.9,-0.1,-9.5,1.5,-2.7,4.1,-5.4,-1.3,-7.7,2.9,-3.5,0.7,-8.9,5.9,-1.8,0.1,-6.4,3.2,-3.9],
[17.9,12.8,9.0,8.1,-10.5,5.1,-8.0,2.4,-3.8,6.2,-6.3,0.4,-9.0,1.9,-2.2,4.4,-4.8,-0.7,-7.2,3.4,-3.0,1.2,-8.4,5.4,-1.2,0.5,-5.7,3.7],
[11.0,9.6,8.9,-9.8,5.2,-7.7,2.6,-3.5,6.4,-6.0,0.6,-8.7,2.1,-2.0,4.6,-4.5,-0.5,-7.0,3.6,-2.8,1.4,-8.1,5.6,-1.0,0.7,-5.4,3.9,-10.7],
[12.1,-16.0,-9.4,4.6,-7.8,2.3,-3.7,5.9,-6.1,0.2,-8.9,1.8,-2.3,4.3,-4.7,-0.8,-7.3,3.2,-3.1,1.0,-8.3,5.3,-1.4,0.4,-5.8,3.5,-3.4,-10.6],
[7.0,-10.0,4.5,-7.6,2.2,-3.4,5.7,-5.9,0.3,-8.6,1.7,-2.1,4.1,-4.5,-0.7,-7.0,3.0,-2.9,1.1,-8.1,5.1,-1.2,0.5,-5.6,3.3,-3.2,-9.5,6.1],
[12.1,11.2,10.6,9.9,-9.1,4.8,-7.4,2.5,-3.3,6.0,-5.7,0.5,-8.4,1.9,-1.9,4.4,-4.3,-0.5,-6.8,3.2,-2.7,1.3,-7.9,5.4,-1.0,0.7,-5.3,3.6],
[12.0,11.4,-11.5,5.0,-7.2,2.7,-3.1,6.3,-5.5,0.7,-8.2,2.1,-1.7,4.6,-4.1,-0.3,-6.6,3.4,-2.5,1.5,-7.7,5.6,-0.8,0.9,-5.1,3.8,-9.4,7.2]
];
const warm1970s = [
[11.5,-9.0,4.7,-7.0,2.4,-2.9,6.0,-5.3,0.4,-8.0,1.8,-1.5,4.3,-3.9,-0.1,-6.4,3.1,-2.3,1.2,-7.5,5.3,-0.6,0.6,-4.9,3.5,-3.6,-8.6,7.6],
[7.8,-9.2,4.9,-6.8,2.6,-2.7,6.2,-5.1,0.6,-7.8,2.0,-1.3,4.5,-3.7,0.1,-6.2,3.3,-2.1,1.4,-7.3,5.5,-0.4,0.8,-4.7,3.7,-3.4,-8.4,7.0],
[8.0,-10.8,-11.2,-11.5,-13.4,4.5,-7.3,2.2,-3.0,5.8,-5.4,0.3,-8.1,1.6,-1.6,4.1,-4.0,-0.2,-6.5,2.9,-2.4,1.0,-7.6,5.0,-0.7,0.4,-9.6,3.3],
[7.4,-9.0,4.6,-6.7,2.3,-2.6,5.9,-5.0,0.4,-7.7,1.7,-1.2,4.2,-3.6,0.0,-6.1,3.0,-2.0,1.1,-7.2,5.2,-0.3,0.5,-4.6,3.4,-3.3,-8.3,6.7],
[7.1,-8.7,4.4,-6.5,2.1,-2.4,5.7,-4.8,0.2,-7.5,1.5,-1.0,4.0,-3.4,-0.2,-5.9,2.8,-1.8,0.9,-7.0,5.0,-0.1,0.3,-4.4,3.2,-3.1,-8.1,6.4],
[12.8,10.8,9.8,-10.4,4.7,-6.6,2.4,-2.5,6.0,-4.9,0.5,-7.6,1.8,-1.1,4.3,-3.5,0.1,-6.0,3.1,-1.9,1.2,-7.1,5.3,-0.2,0.6,-4.5,3.5,-8.4],
[9.3,-8.6,4.3,-6.4,2.0,-2.3,5.6,-4.7,0.1,-7.4,1.4,-0.9,3.9,-3.3,-0.3,-5.8,2.7,-1.7,0.8,-6.9,4.9,0.0,0.2,-4.3,3.1,-3.0,-8.0,6.8],
[6.9,-8.9,4.1,-6.6,1.8,-2.5,5.4,-4.9,-0.1,-7.6,1.2,-1.1,3.7,-3.5,-0.5,-6.0,2.5,-1.9,0.6,-7.1,4.7,-0.2,0.0,-4.5,2.9,-3.2,-8.2,6.2],
[6.5,-9.2,3.9,-6.8,1.6,-2.7,5.2,-5.1,-0.3,-7.8,1.0,-1.3,3.5,-3.7,-0.7,-6.2,2.3,-2.1,0.4,-7.3,4.5,-0.4,-0.2,-4.7,2.7,-3.4,-8.5,5.9],
[6.6,-9.5,3.8,-7.0,1.5,-2.9,5.0,-5.3,-0.4,-8.0,0.9,-1.5,3.4,-3.9,-0.8,-6.4,2.2,-2.3,0.3,-7.5,4.4,-0.6,-0.3,-4.9,2.6,-3.6,-8.8,6.0]
];
const warm1980s = [
[6.3,-10.5,3.6,-7.2,1.3,-3.1,4.8,-5.5,-0.6,-8.2,0.7,-1.7,3.2,-4.1,-1.0,-6.6,2.0,-2.5,0.1,-7.7,4.2,-0.8,-0.5,-5.1,2.4,-3.8,-9.0,5.7],
[6.9,-9.8,3.5,-7.3,1.2,-3.2,4.7,-5.6,-0.7,-8.3,0.6,-1.8,3.1,-4.2,-1.1,-6.7,1.9,-2.6,0.0,-7.8,4.1,-0.9,-0.6,-5.2,2.3,-3.9,-9.3,5.4],
[6.0,-9.4,3.3,-7.4,1.0,-3.3,4.5,-5.7,-0.8,-8.4,0.4,-1.9,2.9,-4.3,-1.2,-6.8,1.7,-2.7,-0.1,-7.9,3.9,-1.0,-0.7,-5.3,2.1,-4.0,-9.1,5.2],
[5.8,-9.0,3.2,-7.1,0.9,-3.0,4.4,-5.4,-0.9,-8.1,0.3,-1.6,2.8,-4.0,-1.3,-6.5,1.6,-2.4,-0.2,-7.6,3.8,-0.7,-0.8,-5.0,2.0,-3.7,-8.8,5.0],
[9.0,-9.3,-8.4,3.1,-7.0,0.8,-3.1,4.3,-5.5,-1.0,-8.2,0.2,-1.7,2.7,-4.1,-1.4,-6.6,1.5,-2.5,-0.3,-7.7,3.7,-0.8,-0.9,-5.1,1.9,-3.8,5.6],
[11.1,9.3,-12.8,-9.5,3.4,-7.2,1.1,-3.2,4.6,-5.6,-0.6,-8.3,0.5,-1.8,3.0,-4.2,-1.1,-6.7,1.8,-2.6,0.0,-7.8,4.0,-0.9,-0.6,-5.2,2.2,-3.9],
[7.0,-11.3,3.3,-7.3,1.0,-3.3,4.5,-5.7,-0.7,-8.4,0.4,-1.9,2.9,-4.3,-1.2,-6.8,1.7,-2.7,-0.1,-7.9,3.9,-1.0,-0.7,-5.3,2.1,-4.0,-9.2,6.4],
[9.0,-21.2,-9.0,3.2,-7.4,0.9,-3.4,4.4,-5.8,-0.8,-8.5,0.3,-2.0,2.8,-4.4,-1.3,-6.9,1.6,-2.8,-0.2,-8.0,3.8,-1.1,-0.8,-5.4,2.0,-4.1,5.9],
[9.1,6.8,-9.1,3.0,-7.5,0.7,-3.5,4.2,-5.9,-0.9,-8.6,0.1,-2.1,2.6,-4.5,-1.4,-7.0,1.4,-2.9,-0.3,-8.1,3.6,-1.2,-0.9,-5.5,1.8,-4.2,5.3],
[7.5,-12.8,-9.6,2.9,-7.6,0.6,-3.6,4.1,-6.0,-1.0,-8.7,0.0,-2.2,2.5,-4.6,-1.5,-7.1,1.3,-3.0,-0.4,-8.2,3.5,-1.3,-1.0,-5.6,1.7,-4.3,5.1]
];
const warm1990s = [
[7.5,-12.7,2.7,-7.7,0.4,-3.7,3.9,-6.1,-1.1,-8.8,-0.2,-2.3,2.3,-4.7,-1.6,-7.2,1.1,-3.1,-0.5,-8.3,3.3,-1.4,-1.1,-5.7,1.5,-4.4,-9.4,4.8],
[6.1,-9.5,2.6,-7.8,0.3,-3.8,3.8,-6.2,-1.2,-8.9,-0.3,-2.4,2.2,-4.8,-1.7,-7.3,1.0,-3.2,-0.6,-8.4,3.2,-1.5,-1.2,-5.8,1.4,-4.5,-9.7,4.5],
[5.6,-11.3,2.4,-8.0,0.1,-4.0,3.6,-6.4,-1.4,-9.1,-0.5,-2.6,2.0,-5.0,-1.9,-7.5,0.8,-3.4,-0.8,-8.6,3.0,-1.7,-1.4,-6.0,1.2,-4.7,-10.0,4.3],
[4.5,-10.3,-10.8,-11.0,2.2,-8.2,-0.1,-4.2,3.4,-6.6,-1.6,-9.3,-0.7,-2.8,1.8,-5.2,-2.1,-7.7,0.6,-3.6,-1.0,-8.8,2.8,-1.9,-1.6,-6.2,1.0,-9.9],
[5.1,-9.6,2.1,-8.3,-0.2,-4.3,3.3,-6.7,-1.7,-9.4,-0.8,-2.9,1.7,-5.3,-2.2,-7.8,0.5,-3.7,-1.1,-8.9,2.7,-2.0,-1.7,-6.3,0.9,-4.9,-10.3,4.0],
[4.6,-11.3,2.0,-8.4,-0.3,-4.4,3.2,-6.8,-1.8,-9.5,-0.9,-3.0,1.6,-5.4,-2.3,-7.9,0.4,-3.8,-1.2,-9.0,2.6,-2.1,-1.8,-6.4,0.8,-5.0,-10.4,3.8],
[5.0,-13.3,-11.6,-11.0,1.9,-8.5,-0.4,-4.5,3.1,-6.9,-1.9,-9.6,-1.0,-3.1,1.5,-5.5,-2.4,-8.0,0.3,-3.9,-1.3,-9.1,2.5,-2.2,-1.9,-6.5,0.7,-10.1],
[5.4,-11.3,2.3,-8.1,0.0,-4.1,3.5,-6.5,-1.5,-9.2,-0.6,-2.7,1.9,-5.1,-2.0,-7.6,0.7,-3.5,-0.9,-8.7,2.9,-1.8,-1.5,-6.1,1.1,-4.6,-9.8,4.4],
[18.3,12.1,5.8,-9.0,2.6,-7.6,0.4,-3.7,3.9,-6.0,-1.1,-8.7,-0.2,-2.3,2.3,-4.6,-1.5,-7.1,1.1,-3.0,-0.5,-8.2,3.3,-1.3,-1.0,-5.6,1.5,-4.3],
[8.0,8.3,-8.6,3.0,-7.2,0.8,-3.3,4.3,-5.6,-0.7,-8.3,0.2,-1.9,2.7,-4.2,-1.1,-6.7,1.5,-2.6,-0.1,-7.8,3.7,-0.9,-0.6,-5.2,1.9,-3.9,5.6]
];
const warm2000s = [
[7.9,-8.5,3.3,-6.9,1.1,-3.0,4.6,-5.3,-0.4,-8.0,0.5,-1.6,3.0,-3.9,-0.8,-6.4,1.8,-2.3,0.2,-7.5,4.0,-0.6,-0.3,-4.9,2.2,-3.6,-8.9,6.0],
[8.3,-8.2,3.6,-6.6,1.4,-2.7,4.9,-5.0,-0.1,-7.7,0.8,-1.3,3.3,-3.6,-0.5,-6.1,2.1,-2.0,0.5,-7.2,4.3,-0.3,0.0,-4.6,2.5,-3.3,-8.6,6.8],
[8.5,-8.0,3.8,-6.4,1.6,-2.5,5.1,-4.8,0.1,-7.5,1.0,-1.1,3.5,-3.4,-0.3,-5.9,2.3,-1.8,0.7,-7.0,4.5,-0.1,0.2,-4.4,2.7,-3.1,-8.4,7.2],
[6.3,-7.9,3.5,-6.3,1.3,-2.6,4.8,-4.9,-0.2,-7.4,0.7,-1.2,3.2,-3.5,-0.6,-5.8,2.0,-1.9,0.4,-6.9,4.2,-0.2,-0.1,-4.5,2.4,-3.2,-8.8,5.5],
[4.9,-10.3,3.0,-6.9,0.9,-3.0,4.2,-5.4,-0.6,-8.1,0.3,-1.6,2.8,-4.0,-1.0,-6.5,1.6,-2.4,0.0,-7.6,3.8,-0.7,-0.5,-5.0,2.0,-3.7,-8.7,4.5]
];
const warmCore1950s = [
[2.9,-1.5,5.6,0.7,-3.6,4.1,-0.3,6.4,1.8,-4.7,3.4,-2.2,7.1,0.0,-5.5,2.5,4.8,-1.0,1.2,-3.0,5.9,-6.1,3.0,-0.7,6.9,1.5],
[1.3,-2.8,4.0,-0.5,-4.4,2.9,-1.7,5.2,0.6,-5.8,3.5,-3.2,6.0,-0.9,1.9,-6.6,4.5,-2.0,0.2,-3.9,5.6,-1.2,2.4,-5.1,3.9,-0.1],
[1.8,-2.4,4.6,-0.3,-4.0,3.0,-1.4,5.8,0.9,-5.4,2.6,-3.3,6.6,-0.8,1.3,-6.2,4.1,-1.9,0.4,-3.7,5.0,-1.1,2.9,-4.8,3.7,0.0],
[0.9,-3.1,3.9,-1.0,-4.6,2.4,-2.1,5.3,0.1,-5.9,3.2,-3.8,6.2,-1.5,1.7,-6.8,4.4,-2.6,-0.2,-4.3,5.5,-1.8,2.0,-5.3,3.0,-0.6],
[1.2,-2.6,4.3,-0.6,-4.2,2.7,-1.6,5.5,0.4,-5.6,3.4,-3.4,6.4,-1.1,1.5,-6.5,4.0,-2.3,0.0,-3.8,5.2,-1.4,2.2,-5.0,3.6,-0.3],
[0.3,-3.6,3.3,-1.4,-5.1,2.1,-2.5,4.6,-0.4,-6.4,2.7,-4.2,5.6,-1.9,1.0,-7.2,3.6,-3.0,-0.7,-4.8,4.9,-2.2,1.5,-5.9,2.9,-1.0],
[-0.2,-4.1,2.8,-1.9,-5.6,1.6,-3.0,4.1,-0.9,-6.9,2.2,-4.7,5.1,-2.4,0.5,-7.7,3.1,-3.5,-1.2,-5.3,4.4,-2.7,1.0,-6.4,2.4,-1.5],
[-0.5,-4.4,2.5,-2.2,-5.9,1.3,-3.3,3.8,-1.2,-7.2,1.9,-5.0,4.8,-2.7,0.2,-8.0,2.8,-3.8,-1.5,-5.6,4.1,-3.0,0.7,-6.7,2.1,-1.8],
[-0.1,-4.0,2.9,-1.8,-5.5,1.7,-2.9,4.2,-0.8,-6.8,2.3,-4.6,5.2,-2.3,0.6,-7.6,3.2,-3.4,-1.1,-5.2,4.5,-2.6,1.1,-6.3,2.5,-1.4],
[-0.7,-4.6,2.3,-2.4,-6.1,1.1,-3.5,3.6,-1.4,-7.4,1.7,-5.2,4.6,-2.9,0.0,-8.2,2.6,-4.0,-1.7,-5.8,3.9,-3.2,0.5,-6.9,1.9,-2.0]
];
const warmCore1960s = [
[-1.2,2.1,-4.6,0.3,-6.8,-2.5,3.6,-0.4,-5.3,1.4,-3.1,4.4,-7.5,-1.8,0.9,-4.0,2.8,-6.1,-0.9,-2.8,5.0,-5.0,1.7,-3.6,-0.1,-8.0],
[0.6,-3.4,-6.2,2.6,-1.5,-4.7,4.1,-0.6,-7.7,1.2,-2.4,3.3,-5.6,-1.0,0.2,-3.9,5.3,-6.9,-2.0,1.9,-4.4,-0.3,2.9,-8.3,-2.9,0.8],
[-2.0,1.5,-5.1,3.8,-0.8,-3.0,-7.0,2.2,-4.2,0.1,-1.6,4.6,-6.3,-2.6,1.0,-5.7,-0.3,3.0,-3.6,-8.2,-1.1,2.5,-4.8,0.6,-2.2,-6.6],
[0.2,-4.1,2.7,-1.9,-6.5,-0.5,4.0,-3.2,-7.9,1.6,-2.5,-5.0,3.4,-0.9,-4.5,0.8,-8.6,-1.4,2.0,-6.0,-2.9,4.7,-3.8,-0.2,1.3,-5.4],
[-1.0,2.4,-4.3,0.5,-6.6,3.7,-2.2,-0.3,-5.4,1.6,-3.5,4.9,-7.3,-1.5,0.9,-4.8,2.9,-6.0,-0.7,-2.7,5.6,-5.2,1.3,-3.9,-0.1,-8.1],
[0.9,-3.0,-5.8,2.9,-1.2,-4.4,4.4,-0.4,-7.2,1.5,-2.1,3.6,-5.2,-0.8,0.4,-3.6,5.7,-6.6,-1.7,2.2,-4.0,-0.1,3.1,-7.9,-2.5,1.0],
[-1.6,1.9,-4.9,3.5,-0.5,-2.7,-6.7,2.4,-3.9,0.3,-1.3,4.3,-6.0,-2.3,1.2,-5.4,0.0,3.3,-3.3,-7.9,-0.8,2.7,-4.6,0.8,-1.9,-6.3],
[0.4,-3.8,3.0,-1.6,-6.2,-0.2,4.3,-2.9,-7.6,1.8,-2.2,-4.7,3.7,-0.6,-4.2,1.0,-8.3,-1.1,2.3,-5.7,-2.6,5.0,-3.5,0.1,1.6,-5.1],
[-0.7,2.6,-4.0,0.7,-6.3,3.9,-1.9,0.0,-5.1,1.8,-3.2,5.1,-7.0,-1.2,1.1,-4.5,3.1,-5.7,-0.4,-2.4,5.8,-4.9,1.5,-3.6,0.2,-7.8],
[1.2,-2.7,-5.5,3.2,-0.9,-4.1,4.7,-0.1,-6.9,1.8,-1.8,3.9,-4.9,-0.5,0.7,-3.3,6.0,-6.3,-1.4,2.5,-3.7,0.2,3.4,-7.6,-2.2,1.3]
];
const warmCore1970s = [
[-0.4,3.0,-3.7,1.2,-5.8,4.5,-1.5,0.8,-4.5,2.5,-2.5,5.6,-6.5,-0.8,1.9,-3.5,3.7,-5.0,0.2,-1.9,6.2,-4.1,2.2,-2.9,0.9,-7.0],
[1.7,-2.1,-4.8,3.9,-0.2,-3.3,5.3,0.6,-6.1,2.6,-1.1,4.4,-4.0,0.1,1.4,-2.6,6.5,-5.4,-0.6,3.1,-3.0,0.9,3.9,-6.8,-1.6,2.0],
[-1.1,2.6,-4.4,4.5,0.2,-2.1,-6.1,3.1,-3.3,1.1,-0.6,5.4,-5.3,-1.7,2.0,-4.8,0.8,4.0,-2.8,-7.2,-0.1,3.5,-3.9,1.6,-1.3,-5.7],
[1.1,-3.2,3.6,-1.0,-5.6,0.5,4.9,-2.4,-6.9,2.4,-1.6,-4.1,4.3,-0.1,-3.5,1.8,-7.6,-0.5,3.0,-5.0,-2.0,5.6,-2.9,0.9,2.3,-4.4],
[-0.1,3.3,-3.3,1.5,-5.5,4.8,-1.1,1.0,-4.3,2.7,-2.2,5.9,-6.2,-0.5,2.1,-3.7,4.0,-4.8,0.4,-1.6,6.5,-3.9,2.4,-2.7,1.2,-6.7],
[2.0,-1.9,-4.5,4.1,0.0,-3.1,5.5,0.8,-5.9,2.8,-0.9,4.7,-3.8,0.3,1.6,-2.4,6.8,-5.2,-0.4,3.3,-2.8,1.2,4.2,-6.6,-1.4,2.2],
[-0.8,2.9,-4.1,4.8,0.4,-1.9,-5.8,3.4,-3.1,1.3,-0.4,5.6,-5.0,-1.5,2.3,-4.5,1.0,4.3,-2.6,-6.9,0.1,3.7,-3.7,1.8,-1.1,-5.4],
[1.3,-3.0,3.8,-0.8,-5.3,0.7,5.1,-2.2,-6.6,2.6,-1.4,-3.9,4.5,0.1,-3.3,2.0,-7.3,-0.3,3.2,-4.8,-1.8,5.9,-2.7,1.1,2.5,-4.2],
[-0.3,3.1,-3.5,1.3,-5.7,4.6,-1.3,0.9,-4.4,2.6,-2.4,5.7,-6.4,-0.7,2.0,-3.6,3.8,-4.9,0.3,-1.8,6.3,-4.0,2.3,-2.8,1.0,-6.9],
[1.5,-2.3,-5.0,3.7,-0.4,-3.5,5.1,0.4,-6.3,2.4,-1.3,4.2,-4.2,-0.1,1.2,-2.8,6.3,-5.6,-0.8,2.9,-3.2,0.7,3.7,-7.0,-1.8,1.8]
];
const warmCore1980s = [
[-1.3,2.2,-4.5,0.4,-6.6,3.7,-2.3,0.0,-5.3,1.7,-3.3,4.8,-7.3,-1.6,1.1,-4.3,2.9,-5.8,-0.6,-2.7,5.4,-4.9,1.4,-3.7,0.1,-7.8],
[0.9,-2.9,-5.6,3.1,-1.0,-4.1,4.5,-0.2,-6.9,1.8,-2.1,3.6,-5.0,-0.7,0.6,-3.4,5.7,-6.2,-1.4,2.3,-3.8,0.1,3.1,-7.6,-2.4,1.2],
[-1.9,1.8,-5.2,4.0,-0.6,-2.9,-6.9,2.3,-4.1,0.3,-1.4,4.6,-6.1,-2.5,1.2,-5.6,0.0,3.2,-3.6,-8.0,-0.9,2.7,-4.7,0.8,-2.1,-6.5],
[0.3,-4.0,2.8,-1.8,-6.4,-0.3,4.1,-3.2,-7.7,1.6,-2.4,-4.9,3.5,-0.9,-4.3,1.0,-8.4,-1.3,2.2,-5.8,-2.8,4.8,-3.7,0.1,1.5,-5.2],
[-0.9,2.5,-4.2,0.6,-6.4,3.9,-2.0,0.2,-5.0,1.9,-3.0,5.0,-7.0,-1.3,1.3,-4.0,3.1,-5.5,-0.3,-2.4,5.6,-4.6,1.6,-3.4,0.4,-7.5],
[0.5,-3.3,-6.0,2.7,-1.4,-4.5,4.1,-0.6,-7.3,1.4,-2.5,3.2,-5.4,-1.1,0.2,-3.8,5.3,-6.6,-1.8,1.9,-4.2,-0.3,2.7,-8.0,-2.8,0.8],
[-2.2,1.4,-5.5,3.6,-1.0,-3.3,-7.2,1.9,-4.5,-0.1,-1.8,4.2,-6.5,-2.9,0.8,-6.0,-0.4,2.8,-4.0,-8.3,-1.3,2.3,-5.1,0.4,-2.5,-6.9],
[0.0,-4.3,2.5,-2.1,-6.7,-0.6,3.8,-3.5,-8.0,1.3,-2.7,-5.2,3.2,-1.2,-4.6,0.7,-8.7,-1.6,1.9,-6.1,-3.1,4.5,-4.0,-0.2,1.2,-5.5],
[-1.5,2.0,-4.7,0.2,-6.8,3.5,-2.5,-0.2,-5.5,1.5,-3.5,4.6,-7.5,-1.8,0.9,-4.5,2.7,-6.0,-0.8,-2.9,5.2,-5.1,1.2,-3.9,-0.1,-8.0],
[0.7,-3.1,-5.8,2.9,-1.2,-4.3,4.3,-0.4,-7.1,1.6,-2.3,3.4,-5.2,-0.9,0.4,-3.6,5.5,-6.4,-1.6,2.1,-4.0,-0.1,2.9,-7.8,-2.6,1.0]
];
const warmCore1990s = [
[-1.8,1.7,-5.0,-0.1,-7.1,3.2,-2.8,-0.5,-5.8,1.2,-3.8,4.3,-7.8,-2.1,0.6,-4.8,2.4,-6.3,-1.1,-3.2,4.9,-5.4,0.9,-4.2,-0.4,-8.3],
[0.4,-3.4,-6.1,2.6,-1.5,-4.6,4.0,-0.7,-7.4,1.3,-2.6,3.1,-5.5,-1.2,0.1,-3.9,5.2,-6.7,-1.9,1.8,-4.3,-0.4,2.6,-8.1,-2.9,0.7],
[-2.4,1.2,-5.7,3.4,-1.1,-3.4,-7.4,1.8,-4.6,-0.2,-1.9,4.1,-6.6,-3.0,0.7,-6.1,-0.5,2.7,-4.1,-8.5,-1.4,2.2,-5.2,0.3,-2.6,-7.0],
[-0.2,-4.5,2.3,-2.3,-6.9,-0.8,3.6,-3.7,-8.2,1.1,-2.9,-5.4,3.0,-1.4,-4.8,0.5,-8.9,-1.8,1.7,-6.3,-3.3,4.3,-4.2,-0.4,1.0,-5.7],
[-1.7,1.8,-4.9,0.0,-7.0,3.3,-2.7,-0.4,-5.7,1.3,-3.7,4.4,-7.7,-2.0,0.7,-4.7,2.5,-6.2,-1.0,-3.1,5.0,-5.3,1.0,-4.1,-0.3,-8.2],
[0.2,-3.6,-6.3,2.4,-1.7,-4.8,3.8,-0.9,-7.6,1.1,-2.8,2.9,-5.7,-1.4,-0.1,-4.1,5.0,-6.9,-2.1,1.6,-4.5,-0.6,2.4,-8.3,-3.1,0.5],
[-2.6,1.0,-5.9,3.2,-1.3,-3.6,-7.6,1.6,-4.8,-0.4,-2.1,3.9,-6.8,-3.2,0.5,-6.3,-0.7,2.5,-4.3,-8.7,-1.6,2.0,-5.4,0.1,-2.8,-7.2],
[-0.4,-4.3,2.1,-2.5,-6.7,-1.0,3.4,-3.9,-8.0,0.9,-3.1,-5.2,2.8,-1.6,-4.6,0.3,-8.7,-2.0,1.5,-6.1,-3.5,4.1,-4.4,-0.6,0.8,-5.5],
[-1.2,2.3,-4.4,0.5,-6.5,3.8,-2.2,0.1,-5.2,1.8,-3.2,4.9,-7.2,-1.5,1.2,-4.2,3.0,-5.7,-0.5,-2.6,5.5,-4.8,1.5,-3.6,0.2,-7.7],
[1.0,-2.8,-5.5,3.2,-0.9,-4.0,4.6,-0.1,-6.8,1.9,-2.0,3.7,-4.9,-0.6,0.7,-3.3,5.8,-6.1,-1.3,2.4,-3.7,0.2,3.2,-7.5,-2.3,1.3]
];
const warmCore2000s = [
[-0.6,2.8,-3.9,1.0,-6.0,4.3,-1.7,0.6,-4.7,2.3,-2.7,5.4,-6.7,-1.0,1.7,-3.7,3.5,-5.2,0.0,-2.1,6.0,-4.3,2.0,-3.1,0.7,-7.2],
[1.5,-2.3,-5.0,3.7,-0.4,-3.5,5.1,0.4,-6.3,2.4,-1.3,4.2,-4.2,-0.1,1.2,-2.8,6.3,-5.6,-0.8,2.9,-3.2,0.7,3.7,-7.0,-1.8,1.8],
[-1.0,2.7,-4.3,4.3,0.0,-2.3,-6.3,2.9,-3.5,0.9,-0.8,5.2,-5.5,-1.9,1.8,-5.0,0.6,3.8,-3.0,-7.4,-0.3,3.3,-4.1,1.4,-1.5,-5.9],
[0.9,-3.4,3.4,-1.2,-5.8,0.3,4.7,-2.6,-7.1,2.2,-1.8,-4.3,4.1,-0.3,-3.7,1.6,-7.8,-0.7,2.8,-5.2,-2.2,5.4,-3.1,0.7,2.1,-4.6],
[-0.9,2.4,-4.4,0.6,-6.5,3.8,-2.1,0.2,-5.2,1.8,-3.1,4.8,-7.1,-1.4,1.2,-4.1,3.0,-5.7,-0.5,-2.5,5.3,-4.7,1.5,-3.5,0.3,-7.6]
];
const warmVals = [...warm1950s, ...warm1960s, ...warm1970s, ...warm1980s, ...warm1990s, ...warm2000s];
const warmCore = [...warmCore1950s, ...warmCore1960s, ...warmCore1970s, ...warmCore1980s, ...warmCore1990s, ...warmCore2000s];

// ---------- smoothed fits (red lines) ----------
const coldTrendYears = [1950.0,1953.0,1956.3,1960.1,1965.8,1970.7,1975.1,1979.8,1984.0,1988.8,1995.4,2000.2,2005.0];
const coldTrendVals  = [2.8,1.4,0.05,-1.07,0.2,0.9,0.2,-0.4,-0.6,-0.8,-1.75,-1.2,-0.45];
const warmTrendYears = [1950.2,1954.5,1958.5,1962.1,1965.7,1971.0,1975.5,1981.3,1986.6,1993.3,1996.0,2000.0,2004.9];
const warmTrendVals  = [1.55,0.2,-1.07,-1.63,-1.5,-0.6,-0.2,-1.07,-1.35,-1.97,-1.63,-0.67,-0.05];

// ---------- build ----------
// each season's measurements are laid out over the season span of that year
// (the order inside the season is spread with a low-discrepancy sequence)
const PHI = 0.6180339887;
function seasonPoints(years, listsA, listsB, start, span) {
  const out = [];
  years.forEach((yr, k) => {
    const v = listsA[k].concat(listsB[k]);
    v.forEach((val, i) => {
      const f = (i * PHI) % 1;
      out.push([yr + start + span * f, val]);
    });
  });
  return out;
}
const coldPts = seasonPoints(coldYears, coldVals, coldCore, -0.2, 0.56);
const warmPts = seasonPoints(warmYears, warmVals, warmCore, 0.15, 0.56);
const zip = (a, b) => a.map((x, i) => [x, b[i]]);

const FONT = '"Liberation Sans", Arial, Helvetica, sans-serif';
const TEAL = '#0DBFBF';
const fmt = v => String(v);

function xAxes(gi) {
  const common = {
    type: 'value', gridIndex: gi, min: 1948.0, max: 2005.93,
    splitLine: { show: false },
    axisLine: { show: true, onZero: false, lineStyle: { color: '#000', width: 2 } },
    axisTick: { show: true, customValues: xTicks, length: 8, lineStyle: { color: '#333', width: 1.5 } }
  };
  return [
    Object.assign({}, common, { position: 'bottom',
      axisLabel: { customValues: xTicks, formatter: fmt, margin: 17, fontFamily: FONT, fontWeight: 'bold', fontSize: 12.5, color: '#000' } }),
    Object.assign({}, common, { position: 'top', axisLabel: { show: false } })
  ];
}
function yAxes(gi) {
  const common = {
    type: 'value', gridIndex: gi, min: -29.75, max: 30,
    splitLine: { show: false },
    axisLine: { show: true, onZero: false, lineStyle: { color: '#000', width: 2 } },
    axisTick: { show: true, customValues: yTicks, length: 8, lineStyle: { color: '#333', width: 1.5 } }
  };
  return [
    Object.assign({}, common, { position: 'left',
      axisLabel: { customValues: yTicks, formatter: fmt, margin: 13, fontFamily: FONT, fontWeight: 'bold', fontSize: 12.5, color: '#000' } }),
    Object.assign({}, common, { position: 'right',
      axisLabel: { customValues: yTicks, formatter: fmt, margin: 15, fontFamily: FONT, fontWeight: 'bold', fontSize: 12.5, color: '#000' } })
  ];
}

function scatter(pts, xi, yi) {
  return {
    type: 'scatter', xAxisIndex: xi, yAxisIndex: yi, data: pts,
    symbol: 'circle', symbolSize: 5, silent: true, z: 2, large: false,
    itemStyle: { color: 'rgba(0,0,0,0)', borderColor: TEAL, borderWidth: 1.5 }
  };
}
function zeroAndTrend(xs, ys, xi, yi) {
  return [
    { type: 'line', xAxisIndex: xi, yAxisIndex: yi, data: [], silent: true, z: 3,
      markLine: { silent: true, symbol: 'none', animation: false, label: { show: false },
        lineStyle: { color: '#FF00FF', type: [7, 5], width: 2 }, data: [{ yAxis: 0 }] } },
    { type: 'line', xAxisIndex: xi, yAxisIndex: yi, data: zip(xs, ys), smooth: 0.5,
      showSymbol: false, silent: true, z: 4, lineStyle: { color: '#FF0000', width: 2.4 } }
  ];
}

function txt(x, y, s, size, align, rot) {
  return { type: 'text', x: x, y: y, rotation: rot || 0, silent: true, z: 10,
    style: { text: s, fontFamily: FONT, fontWeight: 'bold', fontSize: size, fill: '#000',
      align: align || 'center', verticalAlign: 'middle' } };
}

const chart = echarts.init(document.getElementById('chart'), null, { renderer: 'canvas' });
chart.setOption({
  animation: false,
  backgroundColor: '#fff',
  grid: [
    { left: 56, right: 1194 - 546.5, top: 58.7, bottom: 439 - 410 },
    { left: 669.3, right: 1194 - 1161.7, top: 58.7, bottom: 439 - 410 }
  ],
  xAxis: [...xAxes(0), ...xAxes(1)],
  yAxis: [...yAxes(0), ...yAxes(1)],
  series: [
    scatter(coldPts, 0, 0),
    ...zeroAndTrend(coldTrendYears, coldTrendVals, 0, 0),
    scatter(warmPts, 2, 2),
    ...zeroAndTrend(warmTrendYears, warmTrendVals, 2, 2)
  ],
  graphic: [
    txt(310, 22, 'AROSA: Cold-Period', 15),
    txt(928, 22, 'AROSA: Warm-Period', 15),
    txt(62, 72, '(%)', 12, 'left'),
    txt(543, 72, '(%)', 12, 'right'),
    txt(681, 72, '(%)', 12, 'left'),
    txt(1159, 72, '(%)', 12, 'right'),
    txt(317, 84, '(Dobson - Cost)/Cost *100%', 12),
    txt(931, 84, '(Dobson - Cost)/Cost *100%', 12),
    txt(309, 379, 'Mean = -0.4%\u00B15.9% (1\u03C3)', 13),
    txt(942, 347, 'Mean= -1.1% \u00B13.6% (1\u03C3)', 13),
    txt(17, 226, 'Normalized Difference', 13, 'center', Math.PI / 2),
    txt(632, 226, 'Normalized Difference', 13, 'center', Math.PI / 2)
  ]
});
</script>
</body>
</html>
